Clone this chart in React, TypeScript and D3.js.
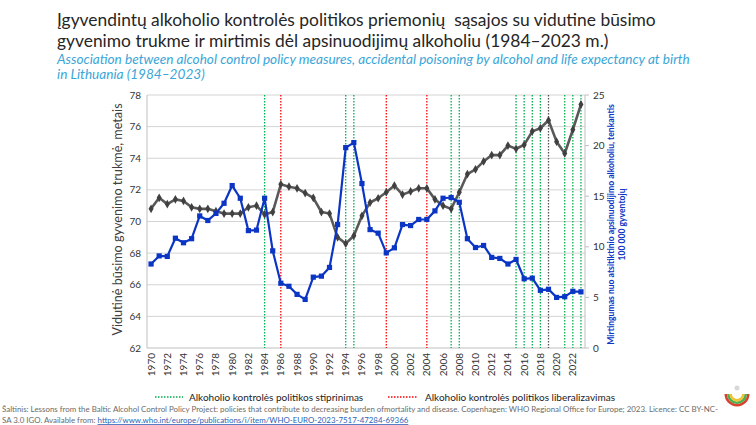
import React from "react";
import * as d3 from "d3";

const years: number[] = d3.range(1970, 2024);
const lifeExpectancy: number[] = [
  70.8, 71.5, 71.1, 71.4, 71.3, 70.9, 70.8, 70.8, 70.65, 70.5,
  70.5, 70.5, 70.9, 71.0, 70.45, 70.6, 72.35, 72.2, 72.1, 71.8,
  71.5, 70.6, 70.5, 69.0, 68.6, 69.1, 70.36, 71.2, 71.47, 71.85,
  72.27, 71.7, 71.9, 72.1, 72.1, 71.4, 71.0, 70.8, 71.85, 73.0,
  73.3, 73.8, 74.2, 74.2, 74.8, 74.6, 74.85, 75.7, 75.9, 76.4,
  75.05, 74.3, 75.8, 77.4,
];
const poisoningMortality: number[] = [
  8.3, 9.1, 9.05, 10.85, 10.4, 10.8, 13.05, 12.6, 13.3, 14.3,
  16.05, 14.8, 11.6, 11.65, 14.8, 9.6, 6.4, 6.1, 5.3, 4.8,
  7.0, 7.1, 7.96, 12.2, 19.8, 20.3, 16.25, 11.7, 11.35, 9.4,
  9.9, 12.2, 12.1, 12.7, 12.7, 13.55, 14.8, 14.87, 14.4, 10.8,
  9.93, 10.13, 8.95, 8.85, 8.3, 8.75, 6.84, 6.9, 5.7, 5.8,
  5.0, 5.07, 5.6, 5.55,
];
const strengtheningYears: number[] = [1984, 1994, 1995, 2007, 2008, 2015, 2016, 2017, 2018, 2021, 2022, 2023];
const otherYears: number[] = [2019];
const liberalisationYears: number[] = [1986, 1999, 2004];
const leftTicks: number[] = [62, 64, 66, 68, 70, 72, 74, 76, 78];
const rightTicks: number[] = [0, 5, 10, 15, 20, 25];
const xTickYears: number[] = d3.range(1970, 2024, 2);

const titleLines = [
  "Įgyvendintų alkoholio kontrolės politikos priemonių  sąsajos su vidutine būsimo",
  "gyvenimo trukme ir mirtimis dėl apsinuodijimų alkoholiu (1984–2023 m.)",
];
const subtitleLines = [
  "Association between alcohol control policy measures, accidental poisoning by alcohol and life expectancy at birth",
  "in Lithuania (1984–2023)",
];
const leftAxisTitle = "Vidutinė būsimo gyvenimo trukmė, metais";
const rightAxisTitle = ["Mirtingumas nuo atsitiktinio apsinuodijimo alkoholiu, tenkantis", "100 000 gyventojų"];
const legendLabels = ["Alkoholio kontrolės politikos stiprinimas", "Alkoholio kontrolės politikos liberalizavimas"];
const sourceLine1 =
  "Šaltinis: Lessons from the Baltic Alcohol Control Policy Project: policies that contribute to decreasing burden ofmortality and disease. Copenhagen: WHO Regional Office for Europe; 2023. Licence: CC BY-NC-";
const sourceLine2a = "SA 3.0 IGO. Available from: ";
const sourceLink = "https://www.who.int/europe/publications/i/item/WHO-EURO-2023-7517-47284-69366";

const W = 756;
const H = 425;
const L = 147;
const R = 585;
const T = 95;
const B = 348;
const FONT = "Lato, 'Open Sans', sans-serif";

export default function App() {
  const x = d3.scaleBand<number>().domain(years).range([L, R]).padding(0);
  const cx = (yr: number) => (x(yr) as number) + x.bandwidth() / 2;
  const yL = d3.scaleLinear().domain([62, 78]).range([B, T]);
  const yR = d3.scaleLinear().domain([0, 25]).range([B, T]);

  const grayLine = d3.line<number>().x((_, i) => cx(years[i])).y((d) => yL(d))(lifeExpectancy) as string;
  const blueLine = d3.line<number>().x((_, i) => cx(years[i])).y((d) => yR(d))(poisoningMortality) as string;
  const diamond = d3.symbol().type(d3.symbolDiamond).size(22)() as string;

  const vline = (yr: number, color: string, key: string) => (
    <line key={key} x1={cx(yr)} x2={cx(yr)} y1={T} y2={B} stroke={color} strokeWidth={1.3} strokeDasharray="1.5,1.5" />
  );

  const arc = d3.arc();

  return (
    <svg width={W} height={H} style={{ position: "absolute", left: 0, top: 0, background: "#fff" }} fontFamily={FONT}>
      <rect x={0} y={0} width={W} height={H} fill="#fff" />
      {/* Title */}
      {titleLines.map((t, i) => (
        <text key={"t" + i} x={57} y={26 + i * 21} fontSize={17.4} fill="#262626" style={{ whiteSpace: "pre" }}>
          {t}
        </text>
      ))}
      {subtitleLines.map((t, i) => (
        <text key={"s" + i} x={57} y={64 + i * 15} fontSize={13.6} fontStyle="italic" fill="#3aa6d8">
          {t}
        </text>
      ))}

      {/* grid */}
      {leftTicks.slice(1).map((v) => (
        <line key={"g" + v} x1={L} x2={R} y1={yL(v)} y2={yL(v)} stroke="#d4d4d4" strokeWidth={1} />
      ))}
      <line x1={L} x2={L} y1={T} y2={B} stroke="#bfbfbf" />
      <line x1={R} x2={R} y1={T} y2={B} stroke="#bfbfbf" />
      <line x1={L} x2={R} y1={B} y2={B} stroke="#bfbfbf" />
      {rightTicks.map((v) => (
        <line key={"rt" + v} x1={R} x2={R + 4} y1={yR(v)} y2={yR(v)} stroke="#bfbfbf" />
      ))}

      {/* policy lines */}
      {strengtheningYears.map((yr) => vline(yr, "#00b050", "sg" + yr))}
      {otherYears.map((yr) => vline(yr, "#555555", "o" + yr))}
      {liberalisationYears.map((yr) => vline(yr, "#ff0000", "lr" + yr))}

      {/* series */}
      <path d={grayLine} fill="none" stroke="#595959" strokeWidth={2.6} strokeLinejoin="round" />
      {lifeExpectancy.map((v, i) => (
        <path key={"gm" + i} d={diamond} transform={`translate(${cx(years[i])},${yL(v)})`} fill="#404040" />
      ))}
      <path d={blueLine} fill="none" stroke="#0b35c4" strokeWidth={2.2} strokeLinejoin="round" />
      {poisoningMortality.map((v, i) => (
        <rect key={"bm" + i} x={cx(years[i]) - 2.6} y={yR(v) - 2.6} width={5.2} height={5.2} fill="#0b35c4" />
      ))}

      {/* left ticks */}
      {leftTicks.map((v) => (
        <text key={"lt" + v} x={141} y={yL(v) + 3.5} fontSize={10} textAnchor="end" fill="#333">
          {v}
        </text>
      ))}
      {rightTicks.map((v) => (
        <text key={"rl" + v} x={593} y={yR(v) + 3.5} fontSize={10} fill="#333">
          {v}
        </text>
      ))}
      {xTickYears.map((yr) => (
        <text
          key={"xt" + yr}
          transform={`translate(${cx(yr) + 3.5},${B + 5}) rotate(-90)`}
          fontSize={10}
          textAnchor="end"
          fill="#333"
        >
          {yr}
        </text>
      ))}

      {/* axis titles */}
      <text transform={`translate(122,${(T + B) / 2 - 2}) rotate(-90)`} textAnchor="middle" fontSize={12.6} fill="#404040">
        {leftAxisTitle}
      </text>
      {rightAxisTitle.map((t, i) => (
        <text
          key={"ra" + i}
          transform={`translate(${614 + i * 11},${(T + B) / 2 + 3}) rotate(-90)`}
          textAnchor="middle"
          fontSize={8.6}
          fontWeight="bold"
          fill="#0b35c4"
        >
          {t}
        </text>
      ))}

      {/* legend */}
      <line x1={155} x2={183} y1={397} y2={397} stroke="#00b050" strokeWidth={1.3} strokeDasharray="1.5,1.5" />
      <text x={189} y={400.5} fontSize={10} fill="#222">
        {legendLabels[0]}
      </text>
      <line x1={388} x2={417} y1={397} y2={397} stroke="#ff0000" strokeWidth={1.3} strokeDasharray="1.5,1.5" />
      <text x={425} y={400.5} fontSize={10} fill="#222">
        {legendLabels[1]}
      </text>

      {/* source */}
      <text x={2} y={412} fontSize={7.6} fill="#6b6b6b" textLength={716} lengthAdjust="spacingAndGlyphs">
        {sourceLine1}
      </text>
      <text x={2} y={423} fontSize={7.9} fill="#6b6b6b">
        {sourceLine2a}
        <tspan fill="#2b5fb4" textDecoration="underline">
          {sourceLink}
        </tspan>
      </text>

      {/* logo */}
      <g transform="translate(737,394)">
        <path d={arc({ innerRadius: 10, outerRadius: 12.5, startAngle: Math.PI / 2, endAngle: (3 * Math.PI) / 2 }) as string} fill="#d9412f" />
        <path d={arc({ innerRadius: 7.5, outerRadius: 10, startAngle: Math.PI / 2, endAngle: (3 * Math.PI) / 2 }) as string} fill="#4caf50" />
        <path d={arc({ innerRadius: 5, outerRadius: 7.5, startAngle: Math.PI / 2, endAngle: (3 * Math.PI) / 2 }) as string} fill="#f2c230" />
        <circle cx={0} cy={-6} r={2.5} fill="#d8d8d8" />
      </g>
    </svg>
  );
}
